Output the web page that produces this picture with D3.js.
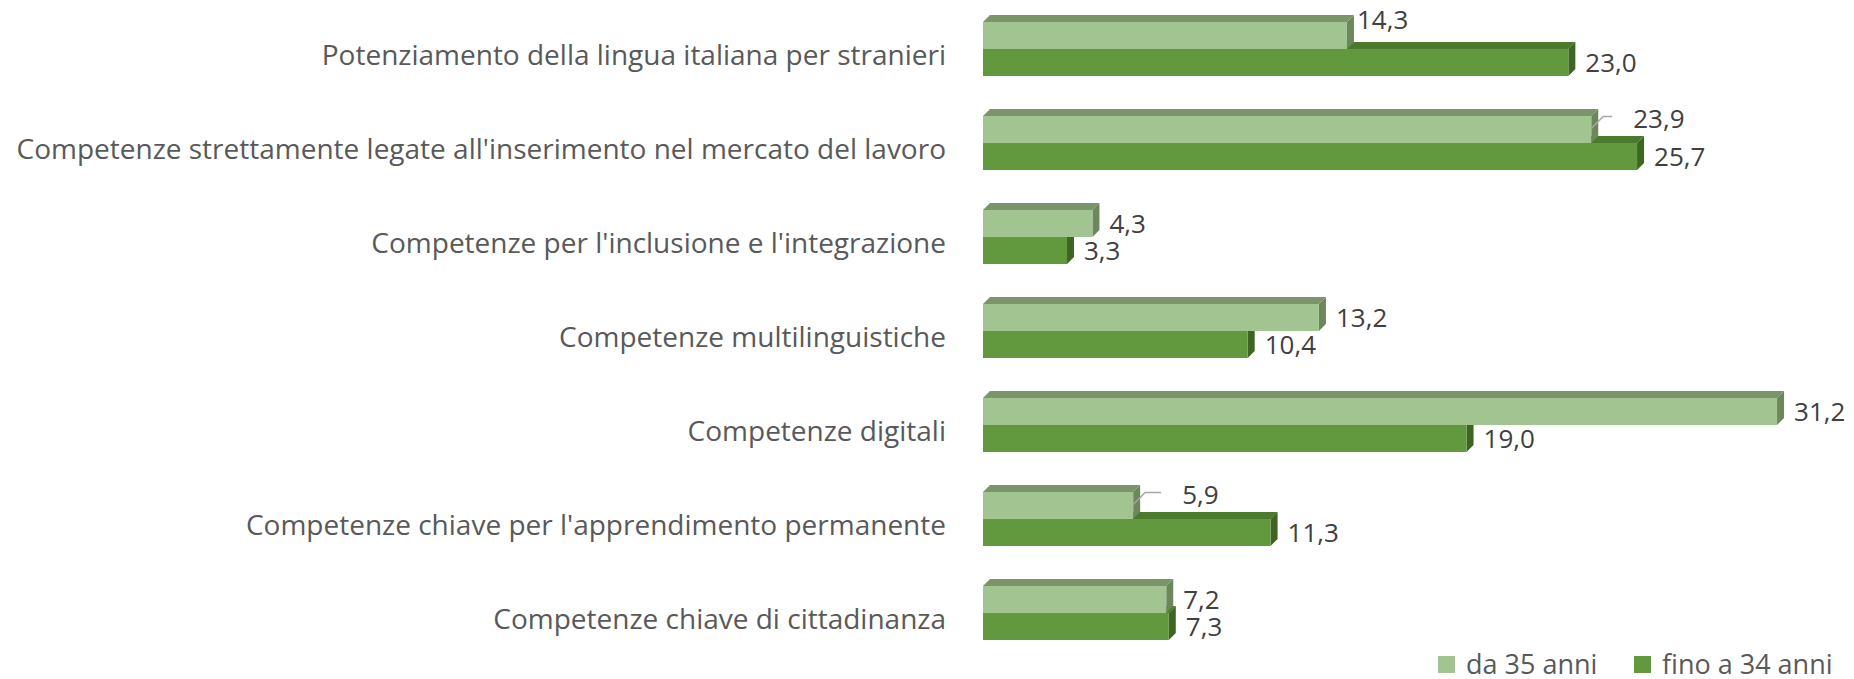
<!DOCTYPE html>
<html>
<head>
<meta charset="utf-8">
<title>Competenze</title>
<script src="https://cdn.jsdelivr.net/npm/d3@7"></script>
<style>
  body { margin: 0; background: #ffffff; }
  svg text { font-family: "Open Sans", "Noto Sans", sans-serif; }
</style>
</head>
<body>
<div id="chart"></div>
<script>
// data
var categories = [
  "Potenziamento della lingua italiana per stranieri",
  "Competenze strettamente legate all'inserimento nel mercato del lavoro",
  "Competenze per l'inclusione e l'integrazione",
  "Competenze multilinguistiche",
  "Competenze digitali",
  "Competenze chiave per l'apprendimento permanente",
  "Competenze chiave di cittadinanza"
];
var series = ["da 35 anni", "fino a 34 anni"];
var over35 = [14.3, 23.9, 4.3, 13.2, 31.2, 5.9, 7.2];
var upTo34 = [23.0, 25.7, 3.3, 10.4, 19.0, 11.3, 7.3];

var W = 1854, H = 679;
var depth = 7;

// colours: front, top, side
var faces = {
  "da 35 anni":     { front: "#a1c490", top: "#7b9469", side: "#6d875d" },
  "fino a 34 anni": { front: "#62993e", top: "#4b7a2d", side: "#3e6524" }
};

// labels that Excel moved off the bar (index -> nudge), leader = draw a line
var labelNudge = {
  "da 35 anni": {
    0: { dx: -7, dy: -16 },
    1: { dx: 25, dy: -11, leader: true },
    5: { dx: 32, dy: -11, leader: true }
  },
  "fino a 34 anni": {}
};

var svg = d3.select("#chart").append("svg")
  .attr("width", W)
  .attr("height", H);

var x = d3.scaleLinear().domain([0, 35]).range([983, 983 + 35 * 25.45]);

var y0 = d3.scaleBand().domain(categories).range([2, 2 + 94 * 7]);
var y1 = d3.scaleBand().domain(series).range([20, 74]);

// draw dark series first so the light bar sits in front of its top face
var drawOrder = [series[1], series[0]];

drawOrder.forEach(function(s) {
  var vals = s === series[0] ? over35 : upTo34;
  var g = svg.append("g").attr("class", "series");
  var col = faces[s];
  vals.forEach(function(v, i) {
    var top = y0(categories[i]) + y1(s);
    var h = y1.bandwidth();
    var x0 = x(0), x1 = x(v);
    // top face
    g.append("path")
      .attr("d", "M" + x0 + "," + top + "L" + (x0 + depth) + "," + (top - depth) +
                 "L" + (x1 + depth) + "," + (top - depth) + "L" + x1 + "," + top + "Z")
      .attr("fill", col.top);
    // side face
    g.append("path")
      .attr("d", "M" + x1 + "," + top + "L" + (x1 + depth) + "," + (top - depth) +
                 "L" + (x1 + depth) + "," + (top + h - depth) + "L" + x1 + "," + (top + h) + "Z")
      .attr("fill", col.side);
    // front face
    g.append("rect")
      .attr("x", x0)
      .attr("y", top)
      .attr("width", x1 - x0)
      .attr("height", h)
      .attr("fill", col.front);
  });
});

// value labels
series.forEach(function(s) {
  var vals = s === series[0] ? over35 : upTo34;
  vals.forEach(function(v, i) {
    var top = y0(categories[i]) + y1(s);
    var cy = top + y1.bandwidth() / 2;
    var lx = x(v) + depth + 10;
    var n = labelNudge[s][i];
    var tx = lx + (n ? n.dx : 0), ty = cy + (n ? n.dy : 0);
    if (n && n.leader) {
      svg.append("path")
        .attr("d", "M" + x(v) + "," + (cy - 1) + "L" + (x(v) + 12) + "," + (ty - 2) + "L" + (tx - 21) + "," + (ty - 2))
        .attr("fill", "none")
        .attr("stroke", "#a6a6a6")
        .attr("stroke-width", 1.5);
    }
    svg.append("text")
      .attr("x", tx)
      .attr("y", ty)
      .attr("dy", "0.35em")
      .attr("font-size", 26)
      .attr("fill", "#404040")
      .text(d3.format(".1f")(v).replace(".", ","));
  });
});

// category labels
svg.append("g").selectAll("text")
  .data(categories)
  .enter().append("text")
  .attr("x", 946)
  .attr("y", function(d) { return y0(d) + y1(series[1]) + 16; })
  .attr("text-anchor", "end")
  .attr("font-size", 28)
  .attr("fill", "#595959")
  .text(function(d) { return d; });

// legend
var legendX = [1438, 1634];
var legend = svg.append("g").selectAll("g")
  .data(series)
  .enter().append("g")
  .attr("transform", function(d, i) { return "translate(" + legendX[i] + ",656)"; });
legend.append("rect")
  .attr("width", 17)
  .attr("height", 17)
  .attr("fill", function(d) { return faces[d].front; });
legend.append("text")
  .attr("x", 28)
  .attr("y", 9)
  .attr("dy", "0.35em")
  .attr("font-size", 27)
  .attr("fill", "#595959")
  .text(function(d) { return d; });
</script>
</body>
</html>
